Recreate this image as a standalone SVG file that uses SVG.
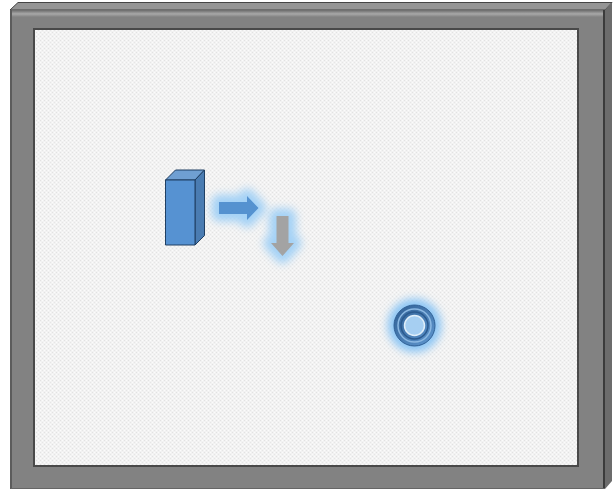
<svg xmlns="http://www.w3.org/2000/svg" width="615" height="491" viewBox="0 0 615 491">
  <defs>
    <pattern id="dots" width="4" height="4" patternUnits="userSpaceOnUse">
      <rect width="4" height="4" fill="#f2f2f2"/>
      <rect x="0" y="0" width="1" height="1" fill="#e2e2e2"/>
      <rect x="2" y="2" width="1" height="1" fill="#e6e6e6"/>
      <rect x="2" y="0" width="1" height="1" fill="#fbfbfb"/>
      <rect x="0" y="2" width="1" height="1" fill="#fbfbfb"/>
    </pattern>
    <filter id="glow" x="-100%" y="-100%" width="300%" height="300%">
      <feGaussianBlur stdDeviation="4"/>
    </filter>
    <filter id="soft" x="-10%" y="-10%" width="120%" height="120%">
      <feGaussianBlur stdDeviation="0.600"/>
    </filter>
    <filter id="frameSoft" x="-2%" y="-2%" width="104%" height="104%">
      <feGaussianBlur stdDeviation="0.700"/>
    </filter>
    <linearGradient id="ring" x1="0" y1="0" x2="1" y2="1">
      <stop offset="0" stop-color="#2f5f94"/>
      <stop offset="1" stop-color="#6098d0"/>
    </linearGradient>
    <linearGradient id="topBand" x1="0" y1="0" x2="0" y2="1">
      <stop offset="0" stop-color="#6a6a6a"/>
      <stop offset="0.550" stop-color="#a8a8a8"/>
      <stop offset="1" stop-color="#828282"/>
    </linearGradient>
  </defs>
  <style>
    .box { stroke: #1f3f63; stroke-width: 1; stroke-linejoin: round; }
    .halo { fill: #a4d2f6; stroke: #a4d2f6; stroke-width: 15; stroke-linejoin: round; }
  </style>
  <rect width="615" height="491" fill="#fff"/>
  <g id="frame">
    <g filter="url(#frameSoft)">
      <path d="M10 10 L18 2.500 L612 2.500 L605 10 Z" fill="#959595" stroke="#444" stroke-width="1"/>
      <rect x="10.500" y="10" width="594" height="479" fill="#828282"/>
      <rect x="11" y="10" width="594" height="7" fill="url(#topBand)"/>
      <path d="M605 10 L612 2.500 L612 481 L605 489 Z" fill="#6c6c6c"/>
      <path d="M604 10 V489" stroke="#3a3a3a" stroke-width="2" fill="none"/>
      <path d="M11 10 V489" stroke="#5c5c5c" stroke-width="2" fill="none"/>
      <path d="M11 488.500 H605" stroke="#666" stroke-width="1" fill="none"/>
      <rect x="34" y="29" width="544" height="437" fill="url(#dots)" stroke="#4a4a4a" stroke-width="2"/>
    </g>
  </g>
  <g id="box">
    <path d="M165.500 180 L175.500 170 L204.500 170 L195 180 Z" fill="#6f9fd2" class="box"/>
    <path d="M195 180 L204.500 170 L204.500 235.500 L195 245 Z" fill="#4a7cb2" class="box"/>
    <rect x="165.500" y="180" width="29.500" height="65" fill="#5692d2" class="box"/>
  </g>
  <g id="connectors">
    <g id="arrow-right">
      <path class="halo" d="M219 202 H247 V196 L258.500 208 L247 220 V214 H219 Z" filter="url(#glow)"/>
      <path d="M219 202 H247 V196 L258.500 208 L247 220 V214 H219 Z" fill="#5492d0" filter="url(#soft)"/>
    </g>
    <g id="arrow-down">
      <path class="halo" d="M276.500 216 H288.500 V243 H294 L282.500 256 L271 243 H276.500 Z" filter="url(#glow)"/>
      <path d="M276.500 216 H288.500 V243 H294 L282.500 256 L271 243 H276.500 Z" fill="#a3a3a3" filter="url(#soft)"/>
    </g>
  </g>
  <g id="target">
    <circle cx="414.500" cy="325.500" r="27" fill="#8cc6f5" filter="url(#glow)"/>
    <g filter="url(#soft)">
      <circle cx="414.500" cy="325.500" r="20.500" fill="url(#ring)" stroke="#2f5f94" stroke-width="1"/>
      <circle cx="414.500" cy="325.500" r="16.500" fill="none" stroke="#8bb8e2" stroke-width="1.500"/>
      <circle cx="414.500" cy="325.500" r="13.500" fill="none" stroke="#2b5a8e" stroke-width="1.500"/>
      <circle cx="414.500" cy="325.500" r="10" fill="#a6cff2" stroke="#dfeef9" stroke-width="1.500"/>
    </g>
  </g>
</svg>
